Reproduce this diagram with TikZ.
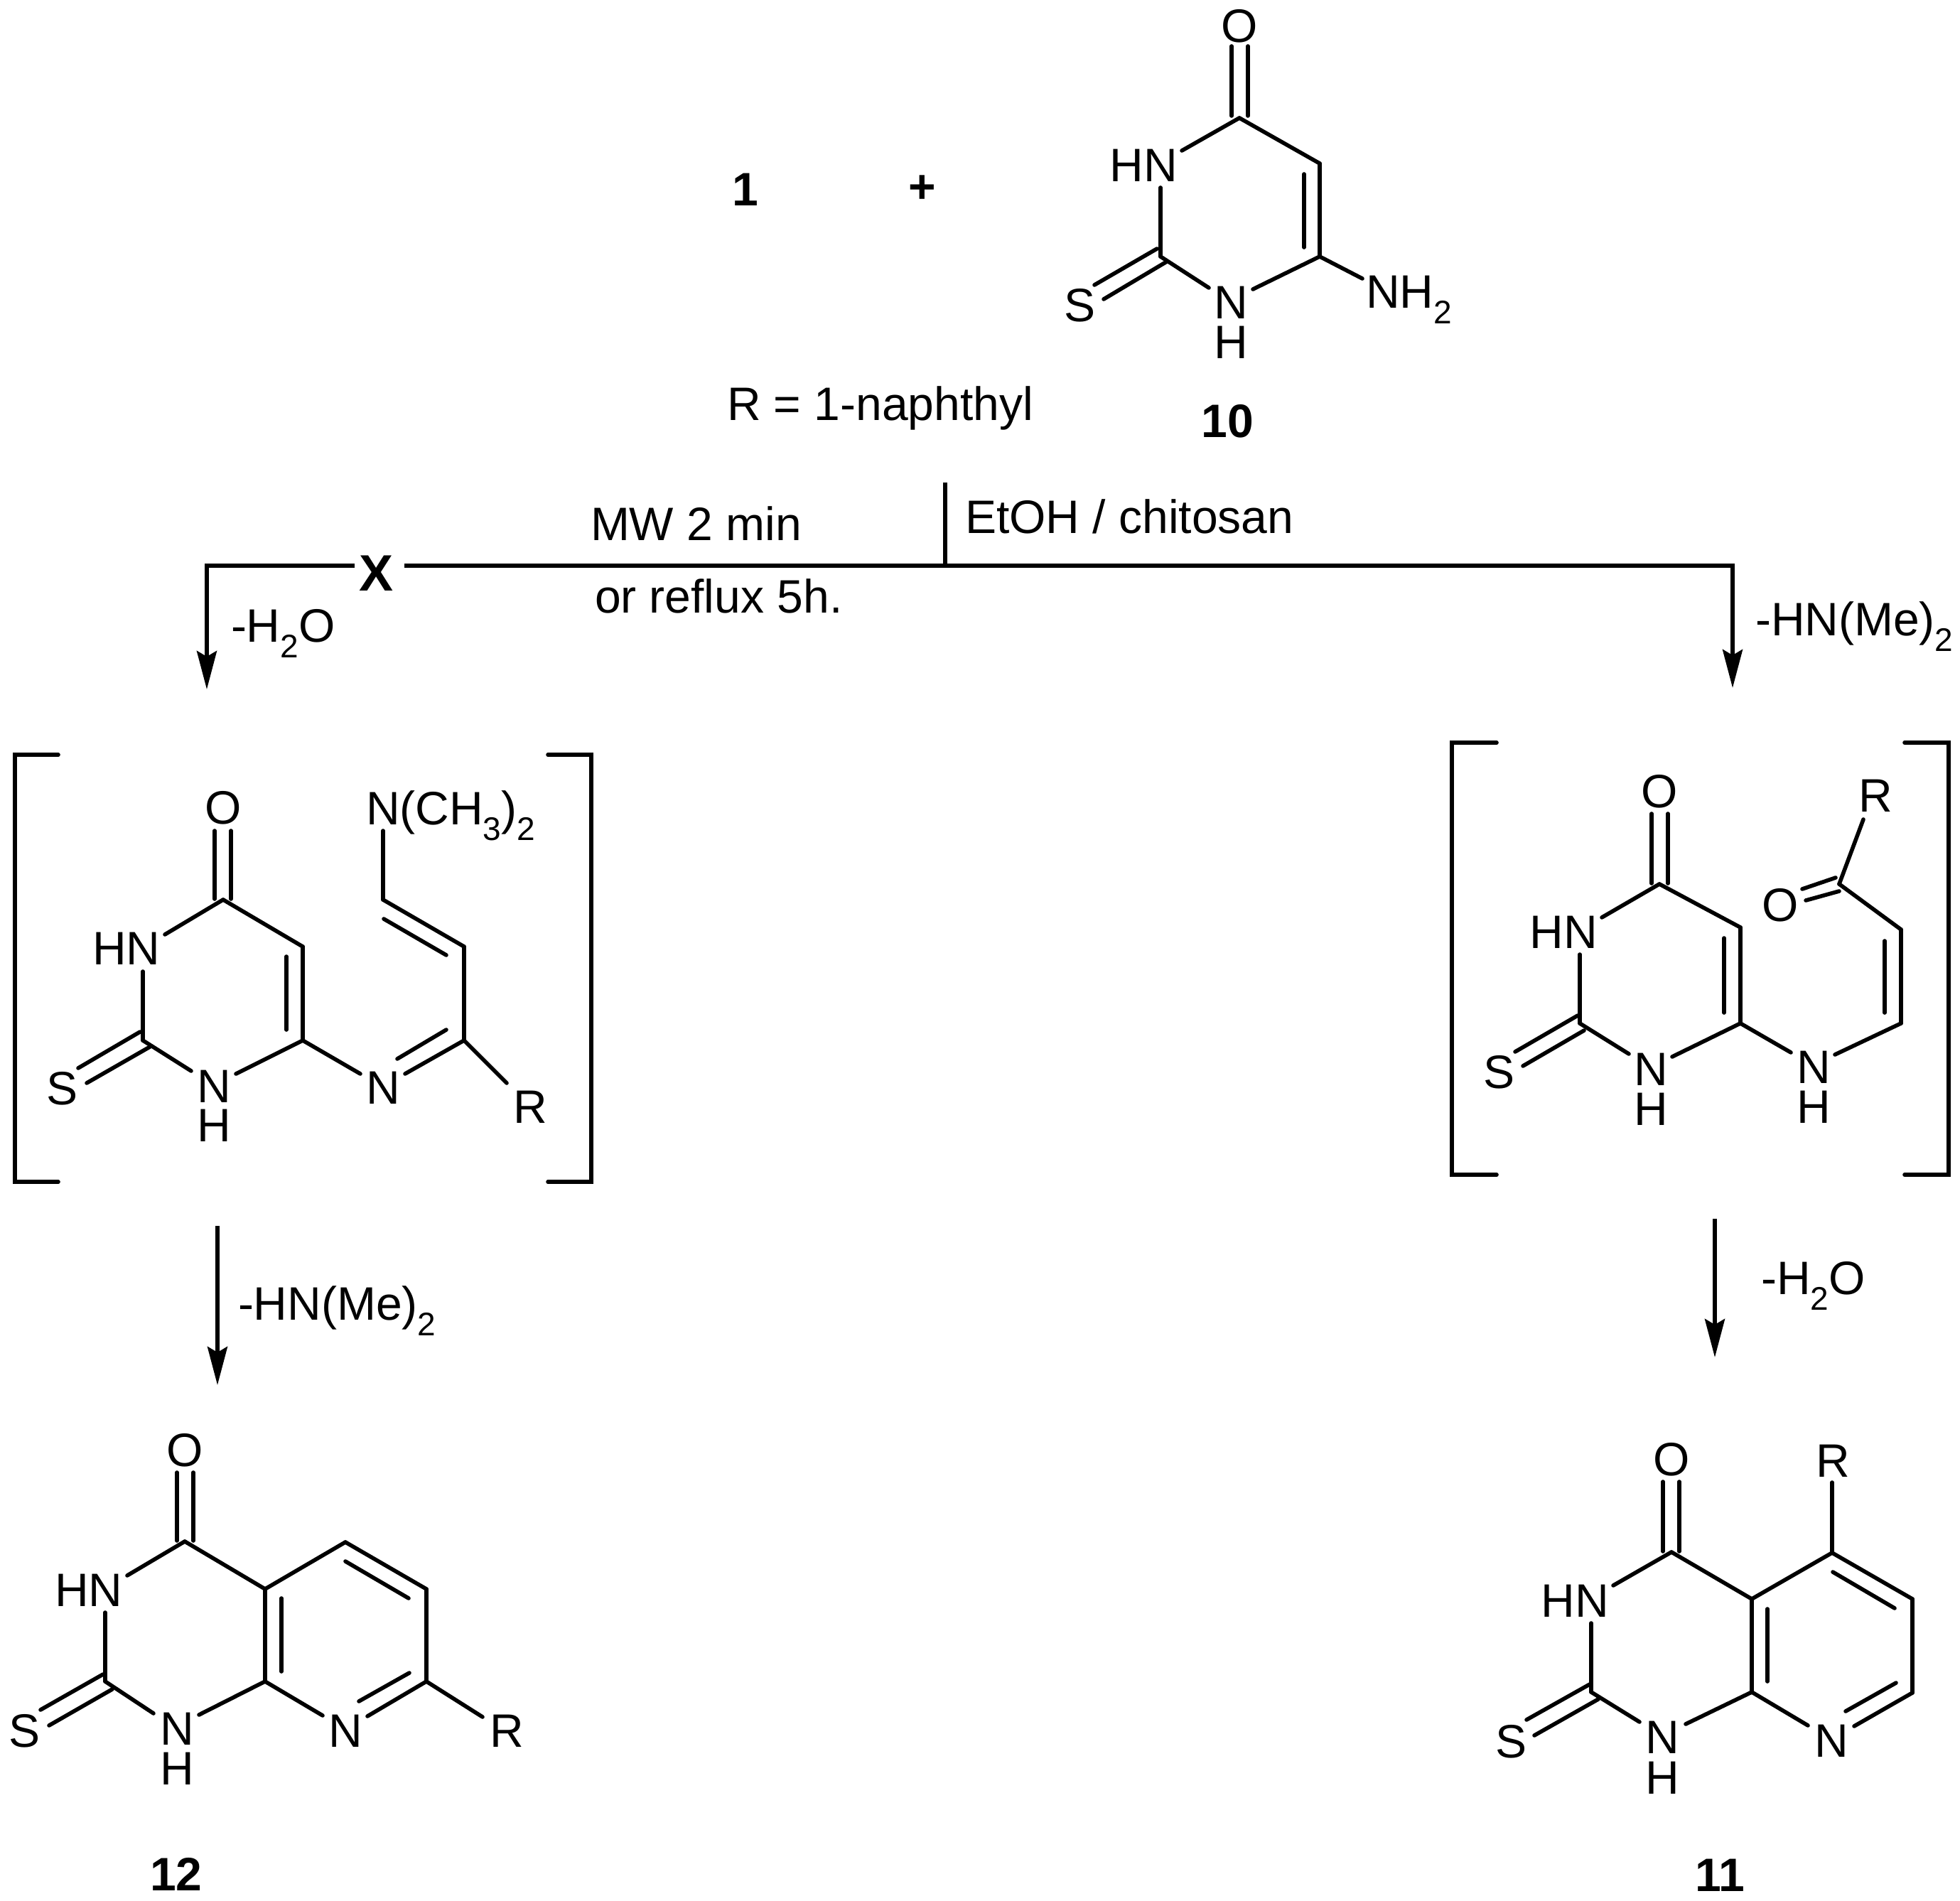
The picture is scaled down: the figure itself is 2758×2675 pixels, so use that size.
\documentclass[tikz,border=0pt]{standalone}
\usepackage{fontspec}
\setmainfont{Liberation Sans}
\usetikzlibrary{arrows.meta}
\newcommand{\subs}[1]{\raisebox{-11pt}{\fontsize{23}{24}\selectfont #1}}
\tikzset{
  bond/.style={line width=2.8pt,line cap=round,line join=miter},
  rule/.style={line width=2.8pt,line cap=butt},
  brk/.style={line width=2.8pt,line cap=round,line join=miter},
  rxn/.style={line width=2.8pt,line join=miter,-{Stealth[length=27pt,width=14pt,inset=4pt]}},
  atom/.style={inner sep=0pt,outer sep=0pt,font=\fontsize{33}{36}\selectfont},
  txt/.style={inner sep=0pt,outer sep=0pt,anchor=base west,font=\fontsize{33}{36}\selectfont},
  num/.style={inner sep=0pt,outer sep=0pt,font=\fontsize{33}{36}\selectfont\bfseries},
}
\begin{document}
\begin{tikzpicture}[x=0.5pt,y=-0.5pt]
\useasboundingbox (0,0) rectangle (2758,2675);

% ---------- reagent 10
\foreach \n/\x/\y in {tc4/1744/166,tc5/1857/230,tc6/1857/361,tc2/1633/361,
  toa/1733/65,tob/1733/163,toc/1756/65,tod/1756/163,
  tn3a/1663/212,tn3b/1633/264,tn1a/1701/405,tn1b/1763/407,
  tia/1835/245,tib/1835/348,tnh/1917/392,
  tsa/1628/350,tsb/1540/401,tsc/1642/368,tsd/1553/421}
  \coordinate (\n) at (\x,\y);
\foreach \a/\b in {toa/tob,toc/tod,tc4/tn3a,tc4/tc5,tc5/tc6,tia/tib,tn3b/tc2,tc2/tn1a,tn1b/tc6,tc6/tnh,tsa/tsb,tsc/tsd}
  \draw[bond] (\a) -- (\b);
\node[atom] (tO) at (1744,37) {O};
\node[atom] (tHN) at (1609,233) {HN};
\node[atom] (tN) at (1732,426) {N};
\node[atom] (tH) at (1732,482) {H};
\node[atom] (tS) at (1519,430) {S};
\node[txt] (tNH) at (1922,434) {NH\subs{2}};
\node[num] (l1) at (1049,267) {1};
\node[num] (plus) at (1298,266) {+};
\node[txt] (rdef) at (1023,591) {R = 1-naphthyl};
\node[num] (l10) at (1727,593) {10};

% ---------- reaction lines
\foreach \n/\x/\y in {stem/1330/679,tee/1330/796,xl/499/796,xr/569/796,cl/291/796,al/291/970,
  cr/2438/796,ar/2438/968,dla/306/1725,dlb/306/1949,dra/2413/1715,drb/2413/1910}
  \coordinate (\n) at (\x,\y);
\draw[rule] (stem) -- (tee);
\draw[rxn] (xr) -- (cr) -- (ar);
\draw[rxn] (xl) -- (cl) -- (al);
\draw[rxn] (dla) -- (dlb);
\draw[rxn] (dra) -- (drb);
\node[num,font=\fontsize{36}{38}\selectfont\bfseries] (xmark) at (530,807) {X};
\node[txt] (mw) at (831,760) {MW 2 min};
\node[txt] (refl) at (837,862) {or reflux 5h.};
\node[txt] (etoh) at (1358,750) {EtOH / chitosan};
\node[txt] (w1) at (325,903) {-H\subs{2}O};
\node[txt] (a1) at (2470,894) {-HN(Me)\subs{2}};
\node[txt] (a2) at (335,1857) {-HN(Me)\subs{2}};
\node[txt] (w2) at (2478,1821) {-H\subs{2}O};

% ---------- left intermediate
\foreach \n/\x/\y in {bl1/82/1062,bl2/21/1062,bl3/21/1663,bl4/82/1663,br1/771/1062,br2/832/1062,br3/832/1663,br4/771/1663,
  lc4/314/1266,lc5/426/1332,lc6/426/1464,lc2/201/1464,
  loa/302/1169,lob/302/1265,loc/325/1169,lod/325/1265,
  ln3a/232/1315,ln3b/201/1367,ln1a/269/1507,ln1b/332/1511,
  lia/403/1346,lib/403/1449,
  lsa/197/1452,lsb/110/1503,lsc/211/1473,lsd/122/1524,
  lna/507/1511,lnb/570/1511,lc8/653/1464,lc9/653/1332,lc10/539/1266,lnc/539/1169,
  lja/559/1490,ljb/628/1449,lka/628/1344,lkb/540/1293,lr/713/1524}
  \coordinate (\n) at (\x,\y);
\draw[brk] (bl1) -- (bl2) -- (bl3) -- (bl4);
\draw[brk] (br1) -- (br2) -- (br3) -- (br4);
\foreach \a/\b in {loa/lob,loc/lod,lc4/ln3a,lc4/lc5,lc5/lc6,lia/lib,ln3b/lc2,lc2/ln1a,ln1b/lc6,lsa/lsb,lsc/lsd,
  lc6/lna,lnb/lc8,lja/ljb,lc8/lc9,lc9/lc10,lka/lkb,lc10/lnc,lc8/lr}
  \draw[bond] (\a) -- (\b);
\node[atom] (lO) at (314,1137) {O};
\node[atom] (lHN) at (178,1335) {HN};
\node[atom] (lN) at (301,1529) {N};
\node[atom] (lH) at (301,1584) {H};
\node[atom] (lS) at (88,1532) {S};
\node[atom] (lN2) at (539,1531) {N};
\node[atom] (lR) at (746,1558) {R};
\node[txt] (lNM) at (515,1160) {N(CH\subs{3})\subs{2}};

% ---------- right intermediate
\foreach \n/\x/\y in {cl1/2106/1045,cl2/2043/1045,cl3/2043/1653,cl4/2106/1653,cr1/2680/1045,cr2/2742/1045,cr3/2742/1653,cr4/2680/1653,
  rc4/2335/1244,rc5/2449/1305,rc6/2449/1440,rc2/2223/1440,
  roa/2324/1145,rob/2324/1243,roc/2347/1145,rod/2347/1243,
  rn3a/2254/1291,rn3b/2223/1343,rn1a/2292/1483,rn1b/2353/1487,
  ria/2426/1320,rib/2426/1425,
  rsa/2220/1429,rsb/2132/1480,rsc/2229/1450,rsd/2143/1500,
  rna/2520/1481,rnb/2582/1484,rc8/2675/1440,rc9/2675/1308,rc10/2588/1244,
  rja/2652/1324,rjb/2652/1425,rr/2622/1153,
  rpa/2583/1235,rpb/2536/1251,rpc/2588/1254,rpd/2541/1267}
  \coordinate (\n) at (\x,\y);
\draw[brk] (cl1) -- (cl2) -- (cl3) -- (cl4);
\draw[brk] (cr1) -- (cr2) -- (cr3) -- (cr4);
\foreach \a/\b in {roa/rob,roc/rod,rc4/rn3a,rc4/rc5,rc5/rc6,ria/rib,rn3b/rc2,rc2/rn1a,rn1b/rc6,rsa/rsb,rsc/rsd,
  rc6/rna,rnb/rc8,rc8/rc9,rja/rjb,rc9/rc10,rc10/rr,rpa/rpb,rpc/rpd}
  \draw[bond] (\a) -- (\b);
\node[atom] (rO) at (2335,1114) {O};
\node[atom] (rHN) at (2200,1312) {HN};
\node[atom] (rN) at (2323,1505) {N};
\node[atom] (rH) at (2323,1561) {H};
\node[atom] (rS) at (2109,1509) {S};
\node[atom] (rN2) at (2552,1502) {N};
\node[atom] (rH2) at (2552,1558) {H};
\node[atom] (rR) at (2639,1120) {R};
\node[atom] (rO2) at (2505,1274) {O};

% ---------- product 12
\foreach \n/\x/\y in {pc4/260/2169,pc4a/373/2236,pc8a/373/2366,pc2/148/2366,
  poa/249/2072,pob/249/2168,poc/272/2072,pod/272/2168,
  pn3a/179/2217,pn3b/148/2269,pn1a/216/2411,pn1b/280/2413,
  pia/396/2249,pib/396/2352,
  psa/145/2356,psb/57/2406,psc/158/2377,psd/69/2428,
  pna/454/2414,pnb/517/2415,pc7/600/2366,pc6/600/2236,pc5/486/2170,
  pja/505/2394,pjb/576/2354,pka/486/2197,pkb/575/2249,pr/679/2416}
  \coordinate (\n) at (\x,\y);
\foreach \a/\b in {poa/pob,poc/pod,pc4/pn3a,pc4/pc4a,pc4a/pc8a,pia/pib,pn3b/pc2,pc2/pn1a,pn1b/pc8a,psa/psb,psc/psd,
  pc8a/pna,pnb/pc7,pja/pjb,pc7/pc6,pc6/pc5,pka/pkb,pc5/pc4a,pc7/pr}
  \draw[bond] (\a) -- (\b);
\node[atom] (pO) at (260,2041) {O};
\node[atom] (pHN) at (125,2238) {HN};
\node[atom] (pN) at (249,2433) {N};
\node[atom] (pH) at (249,2489) {H};
\node[atom] (pS) at (35,2436) {S};
\node[atom] (pN2) at (486,2436) {N};
\node[atom] (pR) at (713,2436) {R};
\node[num] (l12) at (248,2637) {12};

% ---------- product 11
\foreach \n/\x/\y in {qc4/2352/2184,qc4a/2465/2250,qc8a/2465/2381,qc2/2239/2381,
  qoa/2340/2085,qob/2340/2183,qoc/2363/2085,qod/2363/2183,
  qn3a/2270/2231,qn3b/2239/2284,qn1a/2307/2423,qn1b/2372/2426,
  qia/2487/2264,qib/2487/2366,
  qsa/2237/2370,qsb/2148/2420,qsc/2249/2391,qsd/2159/2442,
  qna/2544/2428,qnb/2609/2429,qc7/2691/2382,qc6/2691/2250,qc5/2578/2185,
  qja/2597/2408,qjb/2668/2368,qka/2579/2212,qkb/2666/2263,qr/2578/2086}
  \coordinate (\n) at (\x,\y);
\foreach \a/\b in {qoa/qob,qoc/qod,qc4/qn3a,qc4/qc4a,qc4a/qc8a,qia/qib,qn3b/qc2,qc2/qn1a,qn1b/qc8a,qsa/qsb,qsc/qsd,
  qc8a/qna,qnb/qc7,qja/qjb,qc7/qc6,qc6/qc5,qka/qkb,qc5/qc4a,qc5/qr}
  \draw[bond] (\a) -- (\b);
\node[atom] (qO) at (2352,2054) {O};
\node[atom] (qHN) at (2216,2253) {HN};
\node[atom] (qN) at (2339,2445) {N};
\node[atom] (qH) at (2339,2502) {H};
\node[atom] (qS) at (2126,2451) {S};
\node[atom] (qN2) at (2577,2450) {N};
\node[atom] (qR) at (2579,2056) {R};
\node[num] (l11) at (2420,2639) {11};
\end{tikzpicture}
\end{document}
